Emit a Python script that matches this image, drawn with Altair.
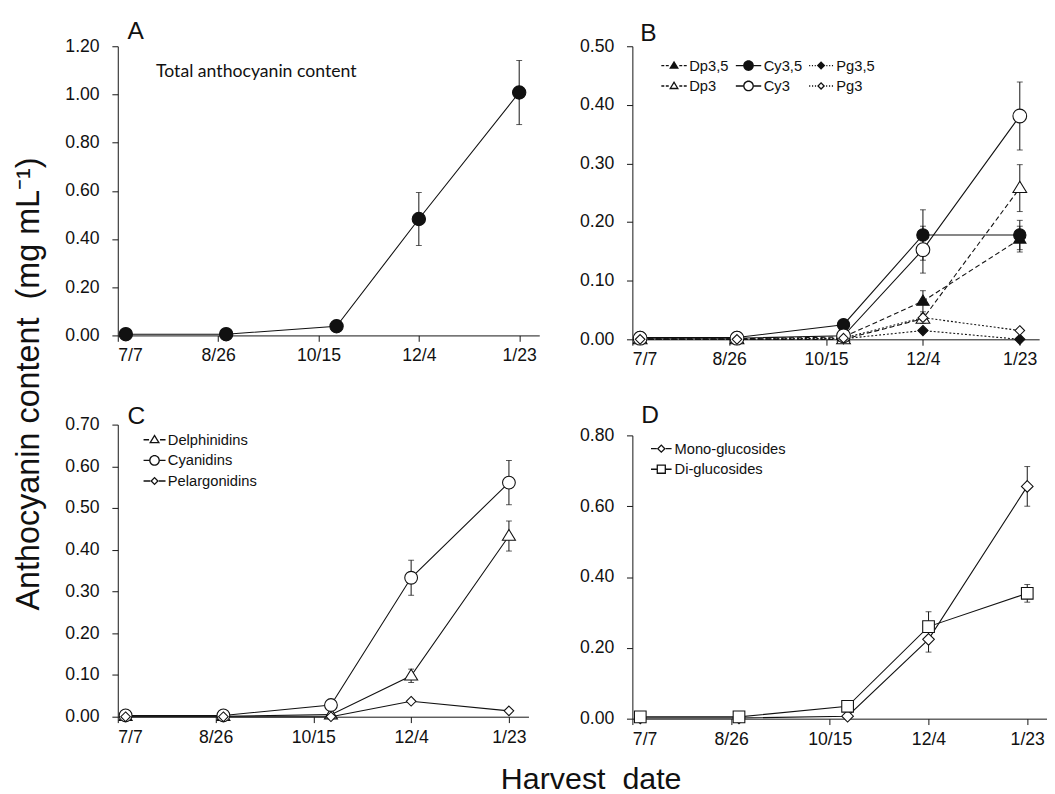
import altair as alt
import pandas as pd

# ---------------- data ----------------
harvest_days = [4, 54, 109, 150, 200]          # days after 7/7
tick_days = [0, 50, 100, 150, 200]
tick_labels = ["7/7", "8/26", "10/15", "12/4", "1/23"]

# Panel A - total anthocyanin
a_series = ["Total"]
a_values = {"Total": [0.005, 0.005, 0.038, 0.483, 1.008]}
a_errors = {"Total": [0, 0, 0, 0.110, 0.133]}

# Panel B - individual anthocyanins (legend order: column by column)
b_series = ["Dp3,5", "Dp3", "Cy3,5", "Cy3", "Pg3,5", "Pg3"]
b_values = {
    "Dp3,5": [0.001, 0.001, 0.004, 0.065, 0.171],
    "Dp3":   [0.000, 0.000, 0.000, 0.035, 0.258],
    "Cy3,5": [0.003, 0.003, 0.025, 0.178, 0.178],
    "Cy3":   [0.002, 0.002, 0.006, 0.153, 0.381],
    "Pg3,5": [0.000, 0.000, 0.001, 0.015, 0.000],
    "Pg3":   [0.000, 0.000, 0.002, 0.037, 0.015],
}
b_errors = {
    "Dp3,5": [0, 0, 0, 0.018, 0.022],
    "Dp3":   [0, 0, 0, 0.008, 0.040],
    "Cy3,5": [0, 0, 0, 0.043, 0.025],
    "Cy3":   [0, 0, 0, 0.040, 0.058],
    "Pg3,5": [0, 0, 0, 0, 0],
    "Pg3":   [0, 0, 0, 0, 0],
}

# Panel C - anthocyanidin groups
c_series = ["Delphinidins", "Cyanidins", " Pelargonidins"]
c_values = {
    "Delphinidins":   [0.001, 0.001, 0.005, 0.098, 0.433],
    "Cyanidins":      [0.003, 0.003, 0.028, 0.333, 0.561],
    " Pelargonidins": [0.000, 0.000, 0.000, 0.037, 0.014],
}
c_errors = {
    "Delphinidins":   [0, 0, 0, 0.016, 0.036],
    "Cyanidins":      [0, 0, 0, 0.042, 0.053],
    " Pelargonidins": [0, 0, 0, 0, 0],
}

# Panel D - glucoside type
d_series = ["Mono-glucosides", "Di-glucosides"]
d_values = {
    "Mono-glucosides": [0.002, 0.002, 0.007, 0.224, 0.656],
    "Di-glucosides":   [0.005, 0.005, 0.035, 0.260, 0.354],
}
d_errors = {
    "Mono-glucosides": [0, 0, 0, 0.036, 0.056],
    "Di-glucosides":   [0, 0, 0, 0.042, 0.025],
}

# ---------------- styling helpers ----------------
INK = "#111111"
FONT = "Liberation Sans"
MSIZE = 196  # constant symbol size; 1 path unit = 7px
T = 0.19     # outline thickness in path units for legend glyphs


def poly(pts):
    return "M" + "L".join(f"{x:.3f},{y:.3f}" for x, y in pts) + "Z"


def circle(r):
    return f"M{r},0A{r},{r},0,1,1,{-r},0A{r},{r},0,1,1,{r},0Z"


def circle_rev(r):
    return f"M{r},0A{r},{r},0,1,0,{-r},0A{r},{r},0,1,0,{r},0Z"


def tri_pts(h):
    return [(0, -h), (h, 0.65 * h), (-h, 0.65 * h)]


def dia_pts(h):
    return [(0, -h), (h, 0), (0, h), (-h, 0)]


def sq_pts(h):
    return [(-h, -h), (h, -h), (h, h), (-h, h)]


def triangle(h):
    return poly(tri_pts(h))


def diamond(h):
    return poly(dia_pts(h))


def square(h):
    return poly(sq_pts(h))


def shrink(pts, cx, cy, k):
    return [(cx + (x - cx) * k, cy + (y - cy) * k) for x, y in pts]


# legend glyphs drawn as filled outlines (rings) so that only a fill is needed
def glyph(kind, h, open_):
    if kind == "circle":
        return circle(h) + (circle_rev(h - T) if open_ else "")
    if kind == "triangle":
        pts = tri_pts(h)
        inner = list(reversed(shrink(pts, 0, 0.087 * h, 1 - T / (0.563 * h))))
    elif kind == "diamond":
        pts = dia_pts(h)
        inner = list(reversed(shrink(pts, 0, 0, 1 - T * 1.414 / h)))
    else:
        pts = sq_pts(h)
        inner = list(reversed(shrink(pts, 0, 0, 1 - T / h)))
    return poly(pts) + (poly(inner) if open_ else "")


def seg(a, b):
    w = 0.1
    return poly([(a, -w), (b, -w), (b, w), (a, w)]) + poly([(-b, -w), (-a, -w), (-a, w), (-b, w)])


def leg_line(style, inner, outer):
    if style == "solid":
        return seg(inner, outer)
    L = outer - inner
    if style == "dash":
        d = L * 0.38
        return seg(inner + 0.05, inner + 0.05 + d) + seg(outer - d, outer)
    out = ""
    n = 3
    step = L / n
    for i in range(n):
        a = inner + i * step + step * 0.35
        out += seg(a, a + step * 0.4)
    return out


def long_df(series, values, errors):
    rows = []
    for s in series:
        for d, v, e in zip(harvest_days, values[s], errors[s]):
            rows.append({"series": s, "day": d, "v": v, "err": e,
                         "lo": v - e, "hi": v + e})
    return pd.DataFrame(rows)


label_expr = " : ".join(
    f"datum.value == {d} ? '{l}'" for d, l in zip(tick_days, tick_labels)
) + " : ''"


def make_panel(series, values, errors, *, shapes, fills, dash_of, leg_shapes,
               ymax, ystep, width, height, letter, letter_dx, letter_offset,
               legend=None, text=None):
    df = long_df(series, values, errors)
    base = alt.Chart(df)
    yvals = [round(i * ystep, 2) for i in range(int(round(ymax / ystep)) + 1)]
    x = alt.X("day:Q", scale=alt.Scale(domain=[0, 210], nice=False),
              axis=alt.Axis(values=tick_days, labelExpr=label_expr, title=None,
                            labelPadding=6, tickSize=6))
    y = alt.Y("v:Q", scale=alt.Scale(domain=[0, ymax], nice=False),
              axis=alt.Axis(values=yvals, format=".2f", title=None,
                            labelPadding=13, tickSize=6))
    shape_scale = alt.Scale(domain=series, range=shapes)

    layers = []
    styles = []
    for s in series:
        if dash_of[s] not in styles:
            styles.append(dash_of[s])
    for i, st in enumerate(styles):
        members = [s for s in series if dash_of[s] == st]
        kw = {} if st is None else {"strokeDash": st}
        ln = base.transform_filter(
            alt.FieldOneOfPredicate(field="series", oneOf=members)
        ).mark_line(color=INK, strokeWidth=1.1, **kw).encode(
            x=x if i == 0 else "day:Q", y=y if i == 0 else "v:Q",
            detail="series:N", order="day:Q")
        layers.append(ln)

    eb = base.transform_filter("datum.err > 0")
    rules = eb.mark_rule(color=INK, strokeWidth=1).encode(
        x="day:Q", y="lo:Q", y2="hi:Q")
    caps = eb.transform_fold(["lo", "hi"], as_=["k", "cv"]).mark_tick(
        orient="horizontal", size=6, thickness=1, color=INK).encode(
        x="day:Q", y="cv:Q")
    layers += [rules, caps]

    # markers: one layer per fill colour (filled / open)
    fill_of = dict(zip(series, fills))
    seen = []
    for f in fills:
        if f in seen:
            continue
        seen.append(f)
        members = [s for s in series if fill_of[s] == f]
        pts = base.transform_filter(
            alt.FieldOneOfPredicate(field="series", oneOf=members)
        ).mark_point(filled=True, fill=f, stroke=INK, strokeWidth=1.1,
                     size=MSIZE, opacity=1).encode(
            x="day:Q", y="v:Q",
            shape=alt.Shape("series:N", scale=shape_scale, legend=None),
        )
        layers.append(pts)

    if legend is not None:
        leg = alt.Legend(
            title=None, orient="none", legendX=legend["x"], legendY=legend["y"],
            columns=legend.get("columns", 1), direction="vertical",
            labelFont=FONT, labelFontSize=legend.get("fs", 15), labelColor=INK,
            labelOffset=legend.get("labelOffset", 6),
            symbolSize=MSIZE, symbolFillColor=INK, symbolStrokeWidth=0,
            symbolOpacity=1, rowPadding=legend.get("rowPadding", 5),
            columnPadding=legend.get("columnPadding", 6),
            padding=0,
        )
        leg_layer = base.mark_point(filled=True, size=MSIZE, opacity=0,
                                    color=INK).encode(
            x="day:Q", y="v:Q",
            shape=alt.Shape("series:N", scale=alt.Scale(domain=series, range=leg_shapes),
                            legend=leg),
        )
        layers.append(leg_layer)

    if text is not None:
        t = alt.Chart(pd.DataFrame({"t": [text["label"]]})).mark_text(
            align="left", baseline="middle", font=text["font"], fontSize=text["fs"],
            color=INK).encode(x=alt.value(text["x"]), y=alt.value(text["y"]), text="t:N")
        layers.append(t)

    ch = alt.layer(*layers).properties(
        width=width, height=height,
        title=alt.TitleParams(letter, anchor="start", frame="group", dx=letter_dx,
                              offset=letter_offset, fontSize=25, font=FONT,
                              fontWeight="normal", color=INK),
    )
    if legend is not None:
        ch = ch.resolve_scale(shape="independent")
    return ch


# ---------------- panels ----------------
panel_a = make_panel(
    a_series, a_values, a_errors,
    shapes=[circle(0.97)], fills=[INK], dash_of={"Total": None}, leg_shapes=None,
    ymax=1.2, ystep=0.2, width=430, height=295,
    letter="A", letter_dx=10, letter_offset=-7,
    text={"label": "Total anthocyanin content", "x": 39, "y": 26, "fs": 18, "font": "Lato"},
)

b_styles = {"Dp3,5": "dash", "Dp3": "dash", "Cy3,5": "solid", "Cy3": "solid",
            "Pg3,5": "dot", "Pg3": "dot"}
b_dash_map = {"dash": [5, 3], "solid": None, "dot": [2, 2]}
b_mark_map = {"Dp3,5": triangle(0.9), "Dp3": triangle(1.0), "Cy3,5": circle(0.9),
              "Cy3": circle(1.0), "Pg3,5": diamond(0.75), "Pg3": diamond(0.7)}
b_leg_kind = {"Dp3,5": ("triangle", 0.72), "Dp3": ("triangle", 0.72),
              "Cy3,5": ("circle", 0.78), "Cy3": ("circle", 0.78),
              "Pg3,5": ("diamond", 0.62), "Pg3": ("diamond", 0.58)}
b_fill_map = {"Dp3,5": INK, "Dp3": "white", "Cy3,5": INK, "Cy3": "white",
              "Pg3,5": INK, "Pg3": "white"}
panel_b = make_panel(
    b_series, b_values, b_errors,
    shapes=[b_mark_map[s] for s in b_series],
    fills=[b_fill_map[s] for s in b_series],
    dash_of={s: b_dash_map[b_styles[s]] for s in b_series},
    leg_shapes=[glyph(b_leg_kind[s][0], b_leg_kind[s][1], b_fill_map[s] == "white")
                + leg_line(b_styles[s], b_leg_kind[s][1], 1.85) for s in b_series],
    ymax=0.5, ystep=0.1, width=415, height=299,
    letter="B", letter_dx=8, letter_offset=-9,
    legend={"x": 35, "y": 12, "columns": 3, "rowPadding": 5, "columnPadding": 6,
            "fs": 15, "labelOffset": 8},
)

c_marks = [triangle(0.95), circle(0.93), diamond(0.7)]
c_leg = [("triangle", 0.8), ("circle", 0.78), ("diamond", 0.62)]
panel_c = make_panel(
    c_series, c_values, c_errors,
    shapes=c_marks, fills=["white", "white", "white"],
    dash_of={s: None for s in c_series},
    leg_shapes=[glyph(k, h, True) + leg_line("solid", h, 1.6) for k, h in c_leg],
    ymax=0.7, ystep=0.1, width=419, height=298,
    letter="C", letter_dx=10, letter_offset=-13,
    legend={"x": 30, "y": 8, "columns": 1, "rowPadding": 5, "fs": 15, "labelOffset": 6},
)

d_marks = [diamond(0.85), square(0.85)]
d_leg = [("diamond", 0.65), ("square", 0.68)]
panel_d = make_panel(
    d_series, d_values, d_errors,
    shapes=d_marks, fills=["white", "white"],
    dash_of={s: None for s in d_series},
    leg_shapes=[glyph(k, h, True) + leg_line("solid", h, 1.5) for k, h in d_leg],
    ymax=0.8, ystep=0.2, width=423, height=289,
    letter="D", letter_dx=9, letter_offset=-1,
    legend={"x": 22, "y": 6, "columns": 1, "rowPadding": 5, "fs": 15, "labelOffset": 6},
)

col_left = alt.vconcat(panel_a, panel_c, spacing=40)
col_right = alt.vconcat(panel_b, panel_d, spacing=35)

inner = alt.hconcat(col_left, col_right, spacing=40).properties(
    title=alt.TitleParams("Anthocyanin content\u00a0 (mg mL\u207b\u00b9)", orient="left",
                          anchor="middle", fontSize=33, font=FONT, fontWeight="normal",
                          color=INK, offset=19)
)

chart = alt.vconcat(inner).properties(
    title=alt.TitleParams("Harvest\u00a0 date", orient="bottom", anchor="middle",
                          fontSize=31, font=FONT, fontWeight="normal", color=INK,
                          offset=18, dx=62),
    padding={"left": 5, "top": 4, "right": 0, "bottom": 0},
).configure_view(stroke=None).configure_axis(
    labelFont=FONT, labelFontSize=18, labelColor=INK, domainColor=INK,
    tickColor=INK, grid=False, domainWidth=1, tickWidth=1,
)

chart.save("out.html", embed_options={"renderer": "svg", "actions": False})
